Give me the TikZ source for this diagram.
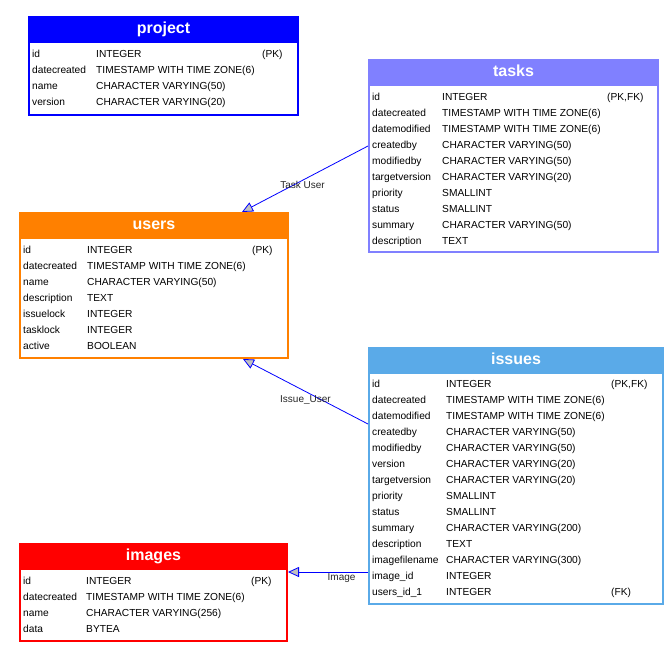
\documentclass[tikz,border=0pt]{standalone}
\usepackage{fontspec}
\setmainfont{Liberation Sans}
\usetikzlibrary{arrows.meta, positioning}

\definecolor{projblue}{HTML}{0000FF}
\definecolor{taskviolet}{HTML}{8080FF}
\definecolor{userorange}{HTML}{FF8000}
\definecolor{issuesky}{HTML}{5AAAE8}
\definecolor{imagered}{HTML}{FF0000}
\definecolor{relblue}{HTML}{0000FF}
\definecolor{tipgray}{HTML}{C0C0C0}

\tikzset{
  tbl/.style={draw=#1, line width=2pt, fill=white, anchor=north west, inner sep=0pt},
  tblhead/.style={draw=#1, fill=#1, line width=2pt, anchor=north west, inner sep=0pt,
    minimum height=25pt, text=white, font=\fontsize{16}{16}\selectfont\bfseries,
    text height=11.5pt, text depth=3.5pt},
  fld/.style={anchor=base west, inner sep=0pt, font=\fontsize{10.2}{12}\selectfont},
  rel/.style={draw=relblue, line width=0.8pt, -{Triangle[length=11pt,width=10pt,fill=tipgray]}},
  rellbl/.style={font=\fontsize{10}{12}\selectfont, text=black!85, inner sep=1pt}
}

\begin{document}
\begin{tikzpicture}[x=1pt, y=-1pt]
\useasboundingbox (0,0) rectangle (669,651);

% project
\node[tbl=projblue, minimum width=269pt, minimum height=98pt] (project) at (28,16) {};
\node[tblhead=projblue, minimum width=269pt] (project-head) at (28,16) {project};
\foreach \fname/\ftype [count=\i from 0] in {id/INTEGER, datecreated/TIMESTAMP WITH TIME ZONE(6), name/CHARACTER VARYING(50), version/CHARACTER VARYING(20)} {
  \node[fld] (project-\i-n) at (32,57+16*\i) {\fname};
  \node[fld] (project-\i-t) at (96,57+16*\i) {\ftype};
}
\node[fld] (project-key) at (262,57) {(PK)};

% tasks
\node[tbl=taskviolet, minimum width=289pt, minimum height=192pt] (tasks) at (368,59) {};
\node[tblhead=taskviolet, minimum width=289pt] (tasks-head) at (368,59) {tasks};
\foreach \fname/\ftype [count=\i from 0] in {id/INTEGER, datecreated/TIMESTAMP WITH TIME ZONE(6), datemodified/TIMESTAMP WITH TIME ZONE(6), createdby/CHARACTER VARYING(50), modifiedby/CHARACTER VARYING(50), targetversion/CHARACTER VARYING(20), priority/SMALLINT, status/SMALLINT, summary/CHARACTER VARYING(50), description/TEXT} {
  \node[fld] (tasks-\i-n) at (372,100+16*\i) {\fname};
  \node[fld] (tasks-\i-t) at (442,100+16*\i) {\ftype};
}
\node[fld] (tasks-key) at (607,100) {(PK,FK)};

% users
\node[tbl=userorange, minimum width=268pt, minimum height=145pt] (users) at (19,212) {};
\node[tblhead=userorange, minimum width=268pt] (users-head) at (19,212) {users};
\foreach \fname/\ftype [count=\i from 0] in {id/INTEGER, datecreated/TIMESTAMP WITH TIME ZONE(6), name/CHARACTER VARYING(50), description/TEXT, issuelock/INTEGER, tasklock/INTEGER, active/BOOLEAN} {
  \node[fld] (users-\i-n) at (23,253+16*\i) {\fname};
  \node[fld] (users-\i-t) at (87,253+16*\i) {\ftype};
}
\node[fld] (users-key) at (252,253) {(PK)};

% issues
\node[tbl=issuesky, minimum width=294pt, minimum height=256pt] (issues) at (368,347) {};
\node[tblhead=issuesky, minimum width=294pt] (issues-head) at (368,347) {issues};
\foreach \fname/\ftype [count=\i from 0] in {id/INTEGER, datecreated/TIMESTAMP WITH TIME ZONE(6), datemodified/TIMESTAMP WITH TIME ZONE(6), createdby/CHARACTER VARYING(50), modifiedby/CHARACTER VARYING(50), version/CHARACTER VARYING(20), targetversion/CHARACTER VARYING(20), priority/SMALLINT, status/SMALLINT, summary/CHARACTER VARYING(200), description/TEXT, imagefilename/CHARACTER VARYING(300), image\_id/INTEGER, users\_id\_1/INTEGER} {
  \node[fld] (issues-\i-n) at (372,387+16*\i) {\fname};
  \node[fld] (issues-\i-t) at (446,387+16*\i) {\ftype};
}
\node[fld] (issues-key) at (611,387) {(PK,FK)};
\node[fld] (issues-fk) at (611,595) {(FK)};

% images
\node[tbl=imagered, minimum width=267pt, minimum height=97pt] (images) at (19,543) {};
\node[tblhead=imagered, minimum width=267pt] (images-head) at (19,543) {images};
\foreach \fname/\ftype [count=\i from 0] in {id/INTEGER, datecreated/TIMESTAMP WITH TIME ZONE(6), name/CHARACTER VARYING(256), data/BYTEA} {
  \node[fld] (images-\i-n) at (23,584+16*\i) {\fname};
  \node[fld] (images-\i-t) at (86,584+16*\i) {\ftype};
}
\node[fld] (images-key) at (251,584) {(PK)};

% relations
\draw[rel] (tasks.west |- 0,146) -- node[rellbl, below, pos=0.52] {Task User} (users.north -| 242,0);
\draw[rel] (issues.west |- 0,424) -- node[rellbl, below, pos=0.5, yshift=-3pt] {Issue\_User} (users.south -| 243,0);
\draw[rel] (issues.west |- 0,572) -- node[rellbl, below, pos=0.33] {Image} (images.east |- 0,572);
\end{tikzpicture}
\end{document}
